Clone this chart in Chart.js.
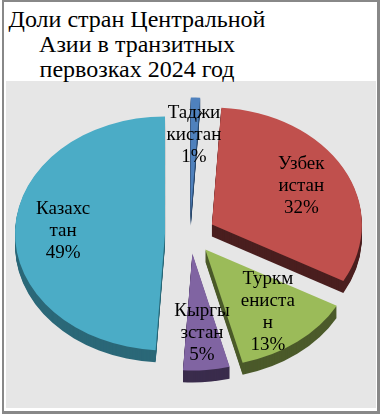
<!DOCTYPE html>
<html>
<head>
<meta charset="utf-8">
<script src="https://cdn.jsdelivr.net/npm/chart.js@4"></script>
<style>
body { margin: 0; background: #fff; }
#frame { position: absolute; left: 2px; top: 0; width: 378px; height: 414px; box-sizing: border-box;
         border: 3px solid #888; border-top-width: 2px; border-left-width: 2px; }
#plot { position: absolute; left: 6px; top: 81px; width: 370px; height: 327px; background: #e6e6e6; }
#title { position: absolute; left: 7px; top: 7px; width: 260px; text-align: center;
         font-size: 24px; line-height: 25px; color: #000; }
canvas { position: absolute; left: 0; top: 0; }
</style>
</head>
<body>
<div id="frame"></div>
<div id="plot"></div>
<div id="title"></div>
<canvas id="myChart" width="380" height="414"></canvas>
<script>
const titleLines = ['Доли стран Центральной', 'Азии в транзитных', 'первозках 2024 год'];
const countries = ['Таджикистан', 'Узбекистан', 'Туркменистан', 'Кыргызстан', 'Казахстан'];
const shares = [1, 32, 13, 5, 49];
// how the labels wrap inside the slices
const labelLines = [['Таджи', 'кистан'], ['Узбек', 'истан'], ['Туркм', 'ениста', 'н'], ['Кыргы', 'зстан'], ['Казахс', 'тан']];

const topColors = ['#4f81bd', '#c0504d', '#9bbb59', '#8064a2', '#4bacc6'];
const sideColors = ['#2c4a6e', '#4a1f1f', '#4b5a2a', '#3a2c4c', '#2b6878'];
const TILT = 0.78;      // vertical squash of the pie
const EXPLODE = 25;     // distance each slice is pulled out
const DEPTH = 12;       // thickness of the 3d side
const LABEL_POS = 0.68; // label distance, share of radius
const SERIF = '"Liberation Serif", Tinos, "Times New Roman", "DejaVu Serif", serif';

const titleEl = document.getElementById('title');
titleEl.style.fontFamily = SERIF;
titleEl.innerHTML = titleLines.join('<br>');

const pie3d = {
    id: 'pie3d',
    beforeDatasetsDraw(chart) {
        const ctx = chart.ctx;
        const arcs = chart.getDatasetMeta(0).data;

        const place = (arc, dy) => {
            const mid = (arc.startAngle + arc.endAngle) / 2;
            ctx.translate(arc.x + Math.cos(mid) * EXPLODE, arc.y + Math.sin(mid) * EXPLODE * TILT + dy);
            ctx.scale(1, TILT);
            ctx.translate(-arc.x, -arc.y);
        };

        // sides first
        arcs.forEach((arc, i) => {
            for (let d = DEPTH; d > 0; d--) {
                ctx.save();
                place(arc, d);
                ctx.beginPath();
                ctx.moveTo(arc.x, arc.y);
                ctx.arc(arc.x, arc.y, arc.outerRadius, arc.startAngle, arc.endAngle);
                ctx.closePath();
                ctx.fillStyle = sideColors[i];
                ctx.fill();
                ctx.restore();
            }
        });

        // top faces
        arcs.forEach(arc => {
            ctx.save();
            place(arc, 0);
            arc.draw(ctx);
            ctx.restore();
        });

        // labels
        ctx.save();
        ctx.font = '19px ' + SERIF;
        ctx.fillStyle = '#000';
        ctx.textAlign = 'center';
        ctx.textBaseline = 'middle';
        arcs.forEach((arc, i) => {
            const mid = (arc.startAngle + arc.endAngle) / 2;
            const r = EXPLODE + arc.outerRadius * LABEL_POS;
            const x = arc.x + Math.cos(mid) * r;
            const y = arc.y + Math.sin(mid) * r * TILT;
            const lines = [...labelLines[i], shares[i] + '%'];
            lines.forEach((t, k) => {
                ctx.fillText(t, x, y + (k - (lines.length - 1) / 2) * 22);
            });
        });
        ctx.restore();
        return false;
    }
};

new Chart(document.getElementById('myChart'), {
    type: 'pie',
    data: {
        labels: countries,
        datasets: [{
            data: shares,
            backgroundColor: topColors,
            borderWidth: 0,
            offset: 0
        }]
    },
    options: {
        responsive: false,
        animation: false,
        events: [],
        radius: 150,
        layout: { padding: { top: 54, left: 0, right: 0, bottom: 0 } },
        plugins: {
            legend: { display: false },
            tooltip: { enabled: false },
            title: { display: false }
        }
    },
    plugins: [pie3d]
});
</script>
</body>
</html>
